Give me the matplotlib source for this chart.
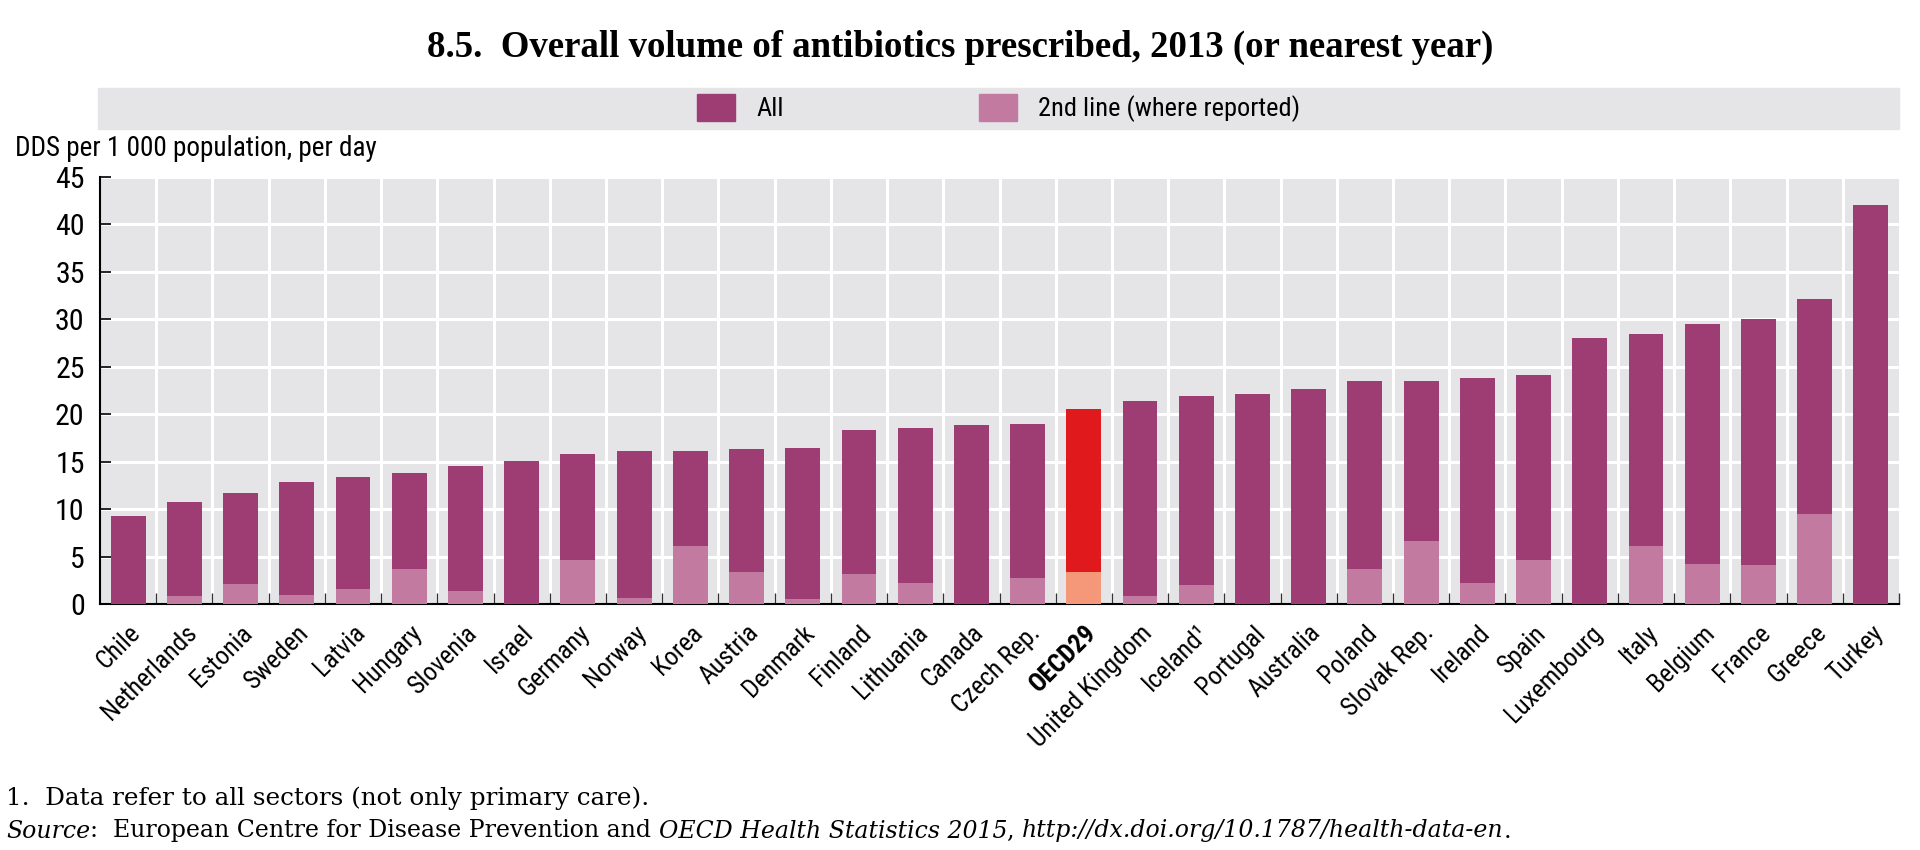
import matplotlib
matplotlib.use("Agg")
import matplotlib.pyplot as plt
from matplotlib import font_manager
from matplotlib.font_manager import FontProperties
from matplotlib.patches import Rectangle, Patch

# Données (DDS pour 1 000 habitants par jour)
countries = ["Chile", "Netherlands", "Estonia", "Sweden", "Latvia", "Hungary", "Slovenia",
             "Israel", "Germany", "Norway", "Korea", "Austria", "Denmark", "Finland",
             "Lithuania", "Canada", "Czech Rep.", "OECD29", "United Kingdom", "Iceland¹",
             "Portugal", "Australia", "Poland", "Slovak Rep.", "Ireland", "Spain",
             "Luxembourg", "Italy", "Belgium", "France", "Greece", "Turkey"]
all_values = [9.3, 10.7, 11.7, 12.9, 13.4, 13.8, 14.5, 15.1, 15.8, 16.1, 16.1, 16.3, 16.4,
              18.3, 18.5, 18.9, 19.0, 20.6, 21.4, 21.9, 22.1, 22.7, 23.5, 23.5, 23.8, 24.1,
              28.0, 28.5, 29.5, 30.0, 32.1, 42.1]
second_line = [0, 0.8, 2.1, 0.9, 1.6, 3.7, 1.4, 0, 4.6, 0.6, 6.1, 3.4, 0.5,
               3.2, 2.2, 0, 2.7, 3.4, 0.8, 2.0, 0, 0, 3.7, 6.6, 2.2, 4.6,
               0, 6.1, 4.2, 4.1, 9.5, 0]
highlight = "OECD29"


def weight_of(f):
    if isinstance(f.weight, int):
        return f.weight
    return 700 if "bold" in str(f.weight) else 400


# Chercher une police étroite (type Arial Narrow)
def find_narrow():
    best = None
    for f in font_manager.fontManager.ttflist:
        name = f.name.lower()
        narrowish = ("narrow" in name or "condensed" in name
                     or f.stretch in ("condensed", "semi-condensed"))
        if not narrowish or f.style != "normal" or weight_of(f) != 400:
            continue
        if not any(k in name for k in ("sans", "roboto", "lato", "inter")):
            continue
        if "extra" in name or "ultra" in name:
            continue
        best = f
        if "liberation" in name:
            break
    return best


def find_bold(regular):
    if regular is None:
        return None
    for f in font_manager.fontManager.ttflist:
        if f.name == regular.name and f.style == "normal" and f.stretch == regular.stretch \
                and weight_of(f) == 700:
            return f
    return None


fr = find_narrow()
fb = find_bold(fr)
if fr is not None:
    tick_fp = lambda size: FontProperties(fname=fr.fname, size=size)
else:
    tick_fp = lambda size: FontProperties(family="Liberation Sans", size=size * 0.92)
if fb is not None:
    bold_fp = lambda size: FontProperties(fname=fb.fname, size=size)
else:
    bold_fp = lambda size: FontProperties(family="Liberation Sans", weight="bold", size=size * 0.85)

col_all = "#9e3c74"
col_2nd = "#c27aa1"
col_oecd = "#e0191c"
col_oecd2 = "#f5987a"

fig = plt.figure(figsize=(19.2, 8.5), dpi=100)
ax = fig.add_axes([100 / 1920, 1 - 604 / 850, 1799 / 1920, 427 / 850])

x = list(range(len(countries)))
c1 = [col_oecd if c == highlight else col_all for c in countries]
c2 = [col_oecd2 if c == highlight else col_2nd for c in countries]
ax.bar(x, all_values, width=0.62, color=c1, zorder=3)
ax.bar(x, second_line, width=0.62, color=c2, zorder=4)

ax.set_xlim(-0.5, len(countries) - 0.5)
ax.set_ylim(0, 45)
ax.set_facecolor("#e5e5e8")
ax.set_yticks(range(0, 46, 5))
ax.tick_params(axis="y", direction="in", length=8, width=1.2, pad=11)
for t in ax.get_yticklabels():
    t.set_fontproperties(tick_fp(21.5))
for y in range(5, 46, 5):
    ax.axhline(y, color="white", lw=2.2, zorder=1)
for b in range(1, len(countries)):
    ax.axvline(b - 0.5, color="white", lw=2.2, zorder=1)

# petits traits entre les catégories
ax.set_xticks([b - 0.5 for b in range(1, len(countries) + 1)], minor=True)
ax.tick_params(axis="x", which="minor", direction="in", length=8, width=1, color="#333333")
ax.set_xticks(x)
ax.set_xticklabels(countries, rotation=45, ha="right", rotation_mode="anchor")
ax.tick_params(axis="x", which="major", length=0, pad=12)
for t in ax.get_xticklabels():
    if t.get_text() == highlight:
        t.set_fontproperties(bold_fp(18.5))
    else:
        t.set_fontproperties(tick_fp(18.5))

for s in ["top", "right"]:
    ax.spines[s].set_visible(False)
ax.spines["left"].set_linewidth(1.5)
ax.spines["bottom"].set_linewidth(1.5)

# Titre
fig.text(0.5, 1 - 47 / 850, "8.5.  Overall volume of antibiotics prescribed, 2013 (or nearest year)",
         ha="center", va="center", fontsize=26.5, fontweight="bold", family="Liberation Serif")

# Bandeau de légende
band_left, band_right = 98 / 1920, 1899 / 1920
fig.patches.append(Rectangle((band_left, 1 - 129 / 850), band_right - band_left, 41 / 850,
                             transform=fig.transFigure, color="#e5e5e8", zorder=0))
handles = [Patch(color=col_all, label="All"), Patch(color=col_2nd, label="2nd line (where reported)")]
fig.legend(handles=handles, loc="center", bbox_to_anchor=((band_left + band_right) / 2, 1 - 108 / 850),
           ncol=2, frameon=False, prop=tick_fp(19), handlelength=1.45,
           handleheight=1.2, columnspacing=7.4)

fig.text(15 / 1920, 1 - 148 / 850, "DDS per 1 000 population, per day", ha="left", va="center",
         fontproperties=tick_fp(19.5))

fig.text(6 / 1920, 1 - 798 / 850, "1.  Data refer to all sectors (not only primary care).",
         ha="left", va="center", fontsize=17.7, family="DejaVu Serif")

# Ligne "Source" : morceaux droits et italiques mis bout à bout
pieces = [("Source", "italic"), (":  European Centre for Disease Prevention and ", "normal"),
          ("OECD Health Statistics 2015", "italic"), (", ", "normal"),
          ("http://dx.doi.org/10.1787/health-data-en", "italic"), (".", "normal")]
renderer = fig.canvas.get_renderer()
xpos = 6 / 1920
for txt, st in pieces:
    t = fig.text(xpos, 1 - 831 / 850, txt, ha="left", va="center", fontsize=17,
                 family="DejaVu Serif", style=st)
    bb = t.get_window_extent(renderer)
    xpos = bb.x1 / fig.bbox.width

fig.savefig("out.png", dpi=100)
